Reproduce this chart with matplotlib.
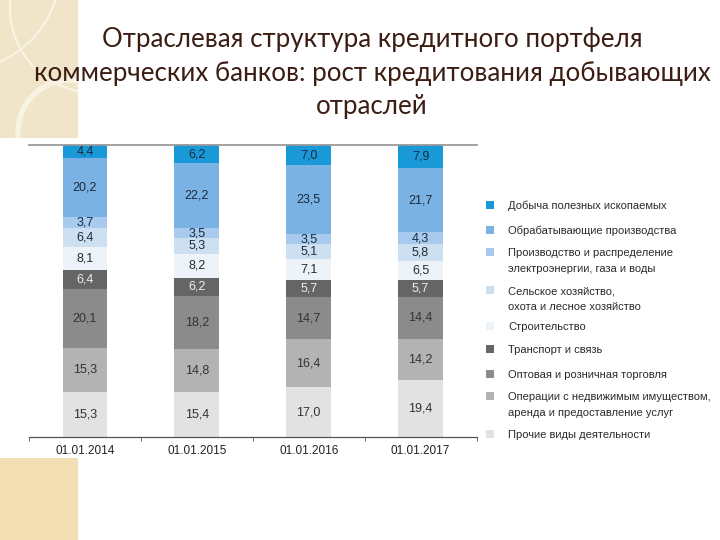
import matplotlib
matplotlib.use("Agg")
import matplotlib.pyplot as plt
from matplotlib.patches import Rectangle, Circle
import numpy as np

# data (percent of loan portfolio)
dates = ["01.01.2014", "01.01.2015", "01.01.2016", "01.01.2017"]
sectors = ["Прочие виды деятельности",
           "Операции с недвижимым имуществом,\nаренда и предоставление услуг",
           "Оптовая и розничная торговля",
           "Транспорт и связь",
           "Строительство",
           "Сельское хозяйство,\nохота и лесное хозяйство",
           "Производство и распределение\nэлектроэнергии, газа и воды",
           "Обрабатывающие производства",
           "Добыча полезных ископаемых"]
other = [15.3, 15.4, 17.0, 19.4]
realty = [15.3, 14.8, 16.4, 14.2]
trade = [20.1, 18.2, 14.7, 14.4]
transport = [6.4, 6.2, 5.7, 5.7]
construction = [8.1, 8.2, 7.1, 6.5]
agriculture = [6.4, 5.3, 5.1, 5.8]
energy = [3.7, 3.5, 3.5, 4.3]
manufacturing = [20.2, 22.2, 23.5, 21.7]
mining = [4.4, 6.2, 7.0, 7.9]
series = [other, realty, trade, transport, construction,
          agriculture, energy, manufacturing, mining]

colors = ["#e2e2e2", "#b3b3b3", "#8b8b8b", "#656565", "#eef3f9",
          "#cde0f2", "#a8caee", "#7ab3e3", "#1a99d8"]
txt_colors = ["#333333", "#333333", "#333333", "#eeeeee", "#222a35",
              "#222a35", "#1c2a3c", "#1c2a3c", "#1c2a3c"]

sans = ["Liberation Sans", "DejaVu Sans"]
W, H = 720, 540

fig = plt.figure(figsize=(7.2, 5.4), dpi=100)
fig.patch.set_facecolor("white")

# slide decoration
fig.add_artist(Rectangle((0, 1 - 138 / H), 78 / W, 138 / H, transform=fig.transFigure,
                         facecolor="#f0e5c9", edgecolor="none", zorder=0))
fig.add_artist(Rectangle((0, 0), 78 / W, 82 / H, transform=fig.transFigure,
                         facecolor="#f3dfb4", edgecolor="none", zorder=0))
deco = fig.add_axes([0, 1 - 138 / H, 78 / W, 138 / H])
deco.set_xlim(0, 78)
deco.set_ylim(138, 0)
deco.axis("off")
deco.add_patch(Circle((95, 8), 85, fill=False, ec="#faf4e4", lw=1.5))
deco.add_patch(Circle((-40, -30), 100, fill=False, ec="#faf4e4", lw=1.5))
deco.add_patch(Circle((70, 132), 52, fill=False, ec="#f8f2e2", lw=4))

# title
fig.text(372 / W, 1 - 73 / H,
         "Отраслевая структура кредитного портфеля\n"
         "коммерческих банков: рост кредитования добывающих\n"
         "отраслей",
         ha="center", va="center", fontsize=18.6, color="#3b1d13",
         family=["Lato", "DejaVu Sans"], linespacing=1.42)

# stacked bars
ax = fig.add_axes([29 / W, 1 - 437 / H, 447.5 / W, 292 / H])
x = np.arange(len(dates))
bottom = np.zeros(len(dates))
for vals, c, tc in zip(series, colors, txt_colors):
    vals = np.array(vals)
    ax.bar(x, vals, 0.4, bottom=bottom, color=c, edgecolor="none", zorder=2)
    for xi, v, b in zip(x, vals, bottom):
        ax.text(xi, b + v / 2, f"{v:.1f}".replace(".", ","), ha="center", va="center",
                fontsize=9, color=tc, family=sans, zorder=3)
    bottom += vals

ax.set_xlim(-0.5, len(dates) - 0.5)
ax.set_ylim(0, 100)
ax.set_facecolor("none")
for s in ["left", "right"]:
    ax.spines[s].set_visible(False)
ax.spines["top"].set_color("#9a9a9a")
ax.spines["top"].set_linewidth(1.3)
ax.spines["bottom"].set_color("#555555")
ax.spines["bottom"].set_linewidth(0.9)
ax.set_yticks([])
ax.set_xticks(x)
ax.set_xticklabels(dates, family=sans, fontsize=8.5, color="#222222")
ax.set_xticks(np.arange(-0.5, len(dates), 1), minor=True)
ax.tick_params(axis="x", which="major", length=0, pad=6)
ax.tick_params(axis="x", which="minor", length=3, direction="out", color="#555555")

# legend, top entry first
leg_y = [205, 230, 252, 290, 326, 349, 374, 396, 434]
for lab, c, y in zip(sectors[::-1], colors[::-1], leg_y):
    fig.add_artist(Rectangle((486 / W, 1 - (y + 4) / H), 8 / W, 8 / H,
                             transform=fig.transFigure, facecolor=c, edgecolor="none"))
    fig.text(508 / W, 1 - (y - 4) / H, lab, ha="left", va="top", fontsize=8,
             color="#2a2a2a", family=sans, linespacing=1.75)

fig.savefig("out.png", dpi=100)
